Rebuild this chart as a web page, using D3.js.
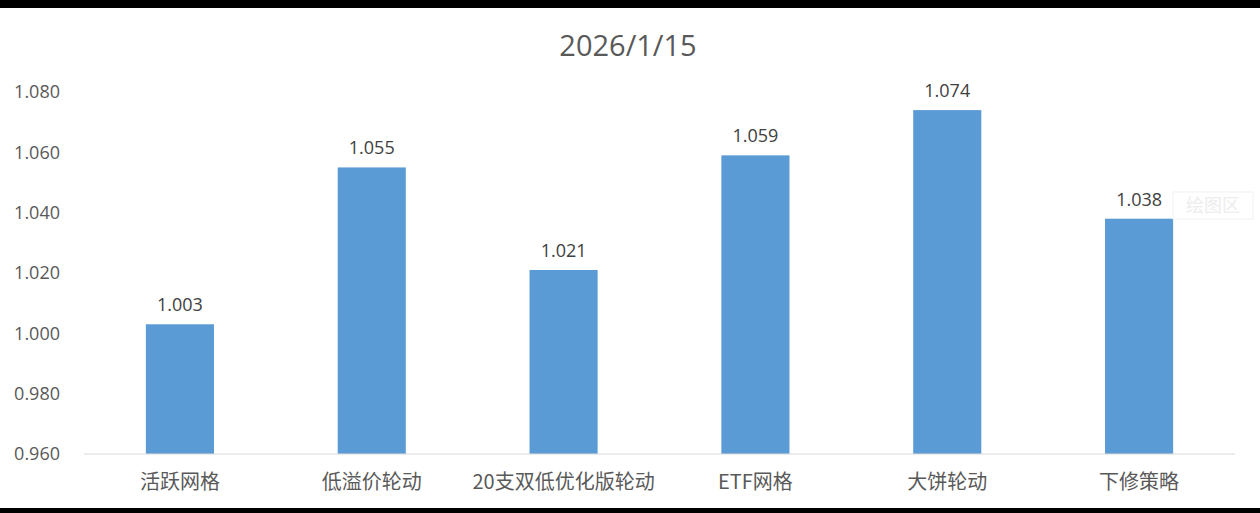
<!DOCTYPE html>
<html>
<head>
<meta charset="utf-8">
<script src="https://cdn.jsdelivr.net/npm/d3@7"></script>
<style>
  html, body { margin: 0; padding: 0; background: #fff; }
  svg { display: block; }
</style>
</head>
<body>
<div id="chart"></div>
<script>
const title = '2026/1/15';
const categories = ['活跃网格', '低溢价轮动', '20支双低优化版轮动', 'ETF网格', '大饼轮动', '下修策略'];
const values = [1.003, 1.055, 1.021, 1.059, 1.074, 1.038];
const yTicks = [0.960, 0.980, 1.000, 1.020, 1.040, 1.060, 1.080];

const W = 1260, H = 513;
const svg = d3.select('#chart').append('svg')
    .attr('width', W)
    .attr('height', H);

svg.append('rect').attr('width', W).attr('height', H).attr('fill', '#fff');
// black frame bands of the screenshot
svg.append('rect').attr('x', 0).attr('y', 0).attr('width', W).attr('height', 8).attr('fill', '#000');
svg.append('rect').attr('x', 0).attr('y', 508).attr('width', W).attr('height', 5).attr('fill', '#000');

const x = d3.scaleBand()
    .domain(categories)
    .range([84, 1235])
    .paddingInner(0.645)
    .paddingOuter(0.3225);

const y = d3.scaleLinear()
    .domain([0.96, 1.08])
    .range([454, 92]);

const numFont = '"Open Sans", "Noto Sans", sans-serif';
const cjkFont = '"Noto Sans CJK SC", sans-serif';

svg.append('text')
    .attr('x', 628)
    .attr('y', 56)
    .attr('text-anchor', 'middle')
    .attr('font-family', numFont)
    .attr('font-size', 29)
    .attr('fill', '#595959')
    .text(title);

// y axis labels
svg.selectAll('.ytick')
    .data(yTicks)
    .enter().append('text')
    .attr('class', 'ytick')
    .attr('x', 60)
    .attr('y', d => y(d))
    .attr('dy', '0.35em')
    .attr('text-anchor', 'end')
    .attr('font-family', numFont)
    .attr('font-size', 18)
    .attr('fill', '#595959')
    .text(d => d.toFixed(3));

// bars
svg.selectAll('.bar')
    .data(values)
    .enter().append('rect')
    .attr('class', 'bar')
    .attr('x', (d, i) => x(categories[i]))
    .attr('y', d => y(d))
    .attr('width', x.bandwidth())
    .attr('height', d => y(0.96) - y(d))
    .attr('fill', '#5B9BD5');

// x axis line
svg.append('line')
    .attr('x1', 84).attr('x2', 1235)
    .attr('y1', y(0.96)).attr('y2', y(0.96))
    .attr('stroke', '#D9D9D9')
    .attr('stroke-width', 1);

// value labels
svg.selectAll('.label')
    .data(values)
    .enter().append('text')
    .attr('class', 'label')
    .attr('x', (d, i) => x(categories[i]) + x.bandwidth() / 2)
    .attr('y', d => y(d) - 13)
    .attr('text-anchor', 'middle')
    .attr('font-family', numFont)
    .attr('font-size', 18)
    .attr('fill', '#404040')
    .text(d => d.toFixed(3));

// category labels
svg.selectAll('.cat')
    .data(categories)
    .enter().append('text')
    .attr('class', 'cat')
    .attr('x', d => x(d) + x.bandwidth() / 2)
    .attr('y', 489)
    .attr('text-anchor', 'middle')
    .attr('font-family', cjkFont)
    .attr('font-size', 20)
    .attr('fill', '#595959')
    .text(d => d);

// faint "plot area" tooltip
svg.append('rect')
    .attr('x', 1173).attr('y', 192)
    .attr('width', 80).attr('height', 27)
    .attr('fill', '#fff')
    .attr('stroke', '#F2F2F2');
svg.append('text')
    .attr('x', 1213).attr('y', 212)
    .attr('text-anchor', 'middle')
    .attr('font-family', cjkFont)
    .attr('font-size', 18)
    .attr('fill', '#EDEDED')
    .text('绘图区');
</script>
</body>
</html>
